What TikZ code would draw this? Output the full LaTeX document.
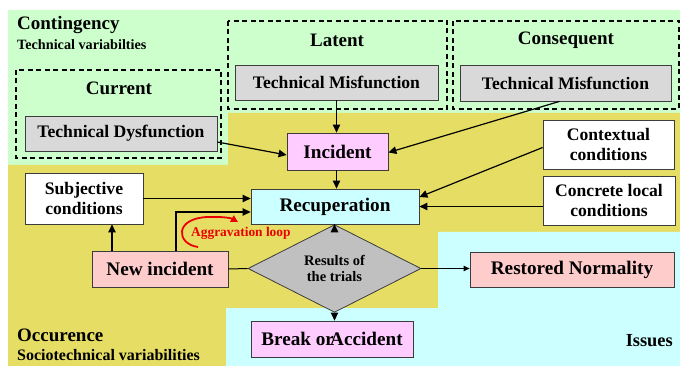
\documentclass[tikz,border=0pt]{standalone}
\usepackage{fontspec}
\setmainfont{Liberation Serif}
\newfontfamily\diagramfont{Liberation Serif}
\usetikzlibrary{arrows.meta,shapes.geometric}

\definecolor{techgreen}{RGB}{204,255,204}
\definecolor{occyellow}{RGB}{230,222,100}
\definecolor{issuecyan}{RGB}{204,255,255}
\definecolor{boxgray}{RGB}{217,217,217}
\definecolor{pinkbox}{RGB}{255,204,255}
\definecolor{rosebox}{RGB}{255,204,204}
\definecolor{diamondgray}{RGB}{192,192,192}
\definecolor{edgegray}{RGB}{60,60,60}
\definecolor{looped}{RGB}{235,0,0}

% text size helper: bold serif at the given size
\newcommand{\dsize}[1]{\diagramfont\bfseries\fontsize{#1}{#1}\selectfont}

\tikzset{
  box/.style={draw=edgegray, line width=0.8pt, inner sep=0pt, align=center},
  grouping/.style={draw=black, line width=1.2pt, dash pattern=on 5pt off 3.5pt},
  flow/.style={draw=black, line width=1.2pt, -{Triangle[length=8pt,width=7.5pt]}},
  heading/.style={anchor=west, inner sep=0pt},
}

\begin{document}
\begin{tikzpicture}[x=1pt, y=-1pt]
  \useasboundingbox (0,0) rectangle (680,366);

  % coloured zones
  \fill[techgreen] (8,10) -- (680,10) -- (680,113) -- (228,113) -- (228,165) -- (8,165) -- cycle;
  \fill[occyellow] (8,165) -- (228,165) -- (228,113) -- (680,113) -- (680,232)
                   -- (438,232) -- (438,308) -- (226,308) -- (226,366) -- (8,366) -- cycle;
  \fill[issuecyan] (226,308) -- (438,308) -- (438,232) -- (680,232) -- (680,366) -- (226,366) -- cycle;

  % zone titles
  \node[heading, font=\dsize{19}] (ttlcont) at (17,25) {Contingency};
  \node[heading, font=\dsize{14.2}] (subcont) at (17,45) {Technical variabilties};
  \node[heading, font=\dsize{19}] (ttlocc) at (17,335) {Occurence};
  \node[heading, font=\dsize{16}] (subocc) at (17,355) {Sociotechnical variabilities};
  \node[anchor=east, inner sep=0pt, font=\dsize{18.4}] (ttliss) at (673,341) {Issues};

  % dashed groupings
  \draw[grouping] (16,70) rectangle (221,158);
  \draw[grouping] (228,21) rectangle (447,109);
  \draw[grouping] (453,21) rectangle (679,109);
  \node[font=\dsize{19}] (lblcur) at (119,88) {Current};
  \node[font=\dsize{19}] (lbllat) at (337,40) {Latent};
  \node[font=\dsize{19}] (lblcon) at (566,40) {Consequent};

  % boxes
  \begin{scope}[every node/.append style={font=\dsize{17.6}}]
    \node[box, fill=boxgray, minimum width=192pt, minimum height=35pt] (tdys) at (121,133.5) {Technical Dysfunction};
    \node[box, fill=boxgray, minimum width=203pt, minimum height=35pt] (tmlat) at (336.5,82.5) {Technical Misfunction};
    \node[box, fill=boxgray, minimum width=211pt, minimum height=36pt] (tmcon) at (565.5,83) {Technical Misfunction};
    \node[box, fill=white, minimum width=131pt, minimum height=49pt] (context) at (608.5,144.5) {Contextual\\[2pt]conditions};
    \node[box, fill=white, minimum width=132pt, minimum height=49pt] (concrete) at (609,200.5) {Concrete local\\[2pt]conditions};
    \node[box, fill=white, minimum width=118pt, minimum height=51pt] (subj) at (84,198.5) {Subjective\\[2pt]conditions};
  \end{scope}
  \begin{scope}[every node/.append style={font=\dsize{19.2}}]
    \node[box, fill=pinkbox, minimum width=101pt, minimum height=37pt] (incident) at (337.5,151.5) {Incident};
    \node[box, fill=issuecyan, minimum width=168pt, minimum height=35pt] (recup) at (335,206.5) {Recuperation};
    \node[box, fill=rosebox, minimum width=136pt, minimum height=36pt] (newinc) at (160,269) {New incident};
    \node[box, fill=rosebox, minimum width=204pt, minimum height=35pt] (restored) at (572,269.5) {Restored Normality};
    \node[box, fill=pinkbox, minimum width=162pt, minimum height=36pt] (breakacc) at (332,339) {Break or\kern-0.2em Accident};
  \end{scope}
  \node[diamond, draw=edgegray, line width=0.8pt, fill=diamondgray, minimum width=173pt, minimum height=57pt,
        inner sep=0pt, align=center, font=\dsize{14.5}] (trials) at (334.5,268.5) {Results of\\[2pt]the trials};

  % connectors
  \draw[flow] (tmlat.south) -- (tmlat.south |- incident.north);
  \draw[flow] ([xshift=-6pt]tmcon.south) -- ([yshift=-1pt]incident.east);
  \draw[flow] ([yshift=-8.5pt]tdys.east) -- ([yshift=-3.5pt]incident.west);
  \draw[flow] (incident.south -| tmlat.south) -- (tmlat.south |- recup.north);
  \draw[flow] ([yshift=-3pt]context.west) -- ([yshift=9.5pt]recup.east);
  \draw[flow] (concrete.west |- recup.east) -- (recup.east);
  \draw[flow] (subj.east) -- (subj.east -| recup.west);
  \draw[flow] ([xshift=16pt]newinc.north) |- ([yshift=-5.5pt]recup.west);
  \draw[flow] ([xshift=-48pt]newinc.north) -- ([xshift=-48pt]newinc.north |- subj.south);
  \draw[flow] (recup.south -| trials.north) -- (trials.north);
  \draw[line width=1pt] (trials.west) -- (newinc.east);
  \draw[line width=1pt, -{Triangle[length=6pt,width=5.5pt]}] (trials.east) -- (trials.east -| restored.west);
  \draw[flow] (trials.south) -- (trials.south |- breakacc.north);

  % aggravation loop
  \coordinate (loopstart) at (198,247);
  \coordinate (loopend) at (238,222);
  \draw[looped, line width=1.8pt, -{Triangle[length=7pt,width=7pt]}]
    (loopstart) .. controls (176,244) and (174,218) .. (208,217)
    .. controls (222,216.5) and (231,218) .. (loopend);
  \node[anchor=west, inner sep=0pt, text=looped, font=\dsize{13.4}] (looplbl) at (191,233) {Aggravation loop};
\end{tikzpicture}
\end{document}
